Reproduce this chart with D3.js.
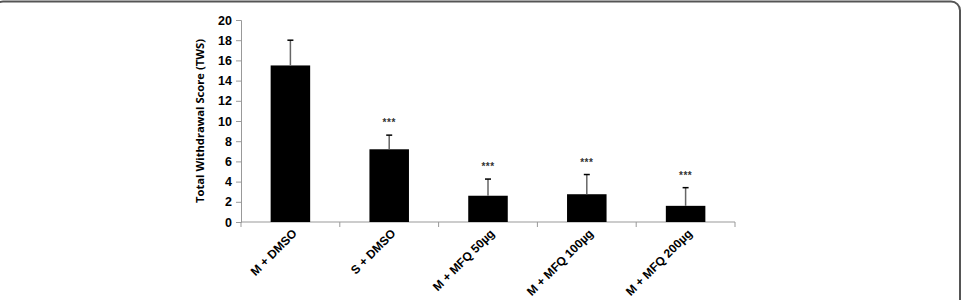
<!DOCTYPE html>
<html>
<head>
<meta charset="utf-8">
<script src="https://cdn.jsdelivr.net/npm/d3@7"></script>
<style>
  body { margin: 0; background: #fff; }
  svg { display: block; }
</style>
</head>
<body>
<div id="viz"></div>
<script>
    var width = 963;
    var height = 300;

    // data
    var groups = ['M + DMSO', 'S + DMSO', 'M + MFQ 50\u00b5g', 'M + MFQ 100\u00b5g', 'M + MFQ 200\u00b5g'];
    var means = [15.5, 7.2, 2.6, 2.75, 1.6];
    var errors = [2.5, 1.4, 1.65, 1.95, 1.8];
    var marks = ['', '***', '***', '***', '***'];
    var yTicks = [0, 2, 4, 6, 8, 10, 12, 14, 16, 18, 20];

    var svg = d3.select('#viz')
                .append('svg')
                .attr('width', width)
                .attr('height', height);

    // frame round the figure
    svg.append('rect')
        .attr('x', -6)
        .attr('y', 1.5)
        .attr('width', 966)
        .attr('height', 330)
        .attr('rx', 9)
        .attr('fill', 'none')
        .attr('stroke', '#555')
        .attr('stroke-width', 2);

    var xScale = d3.scaleBand()
                    .domain(groups)
                    .range([241, 735])
                    .paddingInner(0.6)
                    .paddingOuter(0.3);

    var yScale = d3.scaleLinear()
                    .domain([0, 20])
                    .range([222, 20]);

    // y axis
    var yAxis = d3.axisLeft(yScale)
                    .tickValues(yTicks)
                    .tickSize(5)
                    .tickPadding(4);

    var yG = svg.append('g')
        .attr('transform', 'translate(241,0)')
        .call(yAxis);
    yG.select('.domain').attr('stroke', '#999');
    yG.selectAll('line').attr('stroke', '#999');
    yG.selectAll('text')
        .attr('fill', '#000')
        .style('font-family', 'Liberation Sans, Arial, sans-serif')
        .style('font-weight', 'bold')
        .style('font-size', '12.5px');

    // x axis
    var xG = svg.append('g')
        .attr('transform', 'translate(0,222)');
    xG.append('line')
        .attr('x1', xScale.range()[0])
        .attr('x2', xScale.range()[1])
        .attr('stroke', '#999');
    xG.selectAll('.bound')
        .data(d3.range(groups.length + 1))
        .enter()
        .append('line')
        .attr('x1', (i) => xScale.range()[0] + i * xScale.step())
        .attr('x2', (i) => xScale.range()[0] + i * xScale.step())
        .attr('y1', 0)
        .attr('y2', 5)
        .attr('stroke', '#999');

    xG.selectAll('.lab')
        .data(groups)
        .enter()
        .append('text')
        .attr('transform', (d) => 'translate(' + (xScale(d) + xScale.bandwidth() / 2 + 5) + ',10) rotate(-45)')
        .attr('text-anchor', 'end')
        .attr('dominant-baseline', 'middle')
        .style('font-family', 'Liberation Sans, Arial, sans-serif')
        .style('font-weight', 'bold')
        .style('font-size', '12px')
        .text((d) => d);

    // bars
    svg.selectAll('.bar')
        .data(groups)
        .enter()
        .append('rect')
        .attr('class', 'bar')
        .attr('x', (d) => xScale(d))
        .attr('y', (d, i) => yScale(means[i]))
        .attr('width', xScale.bandwidth())
        .attr('height', (d, i) => yScale(0) - yScale(means[i]))
        .attr('fill', '#000');

    // upper error bars
    var eb = svg.selectAll('.err')
        .data(groups)
        .enter()
        .append('g');
    eb.append('line')
        .attr('x1', (d) => xScale(d) + xScale.bandwidth() / 2)
        .attr('x2', (d) => xScale(d) + xScale.bandwidth() / 2)
        .attr('y1', (d, i) => yScale(means[i]))
        .attr('y2', (d, i) => yScale(means[i] + errors[i]))
        .attr('stroke', '#666')
        .attr('stroke-width', 1.5);
    eb.append('line')
        .attr('x1', (d) => xScale(d) + xScale.bandwidth() / 2 - 3)
        .attr('x2', (d) => xScale(d) + xScale.bandwidth() / 2 + 3)
        .attr('y1', (d, i) => yScale(means[i] + errors[i]))
        .attr('y2', (d, i) => yScale(means[i] + errors[i]))
        .attr('stroke', '#000')
        .attr('stroke-width', 1.5);

    // significance stars
    svg.selectAll('.sig')
        .data(groups)
        .enter()
        .append('text')
        .attr('x', (d) => xScale(d) + xScale.bandwidth() / 2)
        .attr('y', (d, i) => yScale(means[i] + errors[i]) - 9)
        .attr('text-anchor', 'middle')
        .style('font-family', 'Liberation Sans, Arial, sans-serif')
        .style('font-weight', 'bold')
        .style('font-size', '10px')
        .style('letter-spacing', '0.5px')
        .attr('fill', '#333')
        .text((d, i) => marks[i]);

    // y axis title
    svg.append('text')
        .attr('transform', 'translate(204,121) rotate(-90)')
        .attr('text-anchor', 'middle')
        .style('font-family', 'Open Sans, sans-serif')
        .style('font-weight', 'bold')
        .style('font-size', '11.2px')
        .text('Total Withdrawal Score (TWS)');
</script>
</body>
</html>
